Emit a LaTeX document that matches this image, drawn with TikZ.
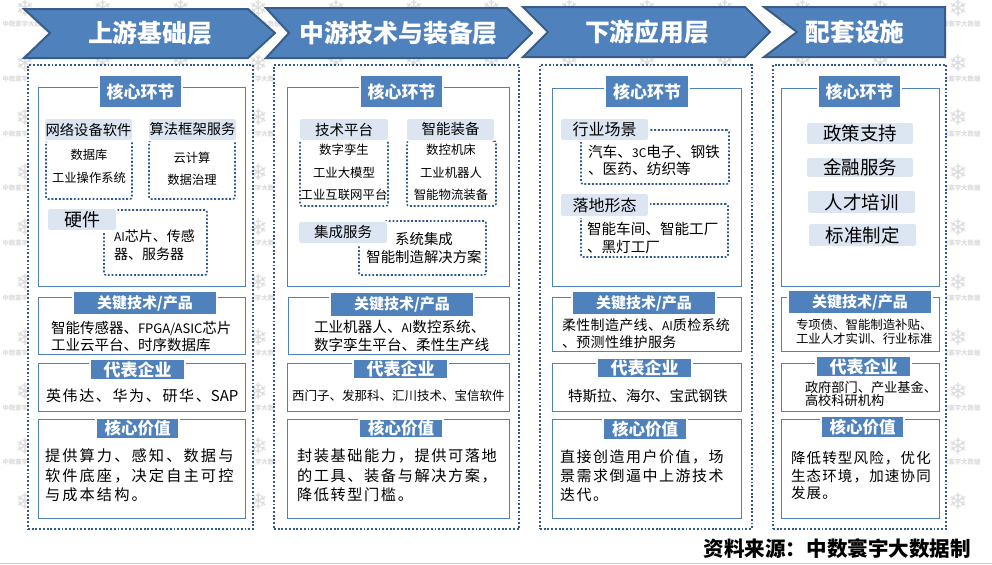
\documentclass[tikz,border=0pt]{standalone}
\usepackage{fontspec}
\setmainfont{Noto Sans CJK SC}
\newfontfamily\flakefont{DejaVu Sans}
\definecolor{hblue}{HTML}{4F81BD}
\definecolor{hedge}{HTML}{385D8A}
\definecolor{pill}{HTML}{DCE6F2}
\definecolor{dotc}{HTML}{2F5A91}
\definecolor{wm}{HTML}{DCDCDC}
\newcommand\fs[1]{\pgfmathsetlengthmacro\fsL{#1*0.75}\fontsize{\fsL}{\fsL}\selectfont}
% box by pixel corners: name,x1,y1,x2,y2,style,text
\newcommand\bx[7]{\pgfmathsetmacro\bw{(#4-#2)*0.75}\pgfmathsetmacro\bh{(#5-#3)*0.75}\pgfmathsetmacro\bcx{(#2+#4)/2}\pgfmathsetmacro\bcy{(#3+#5)/2}\node[#6,minimum width=\bw pt,minimum height=\bh pt,inner sep=0pt,outer sep=0pt] (#1) at (\bcx,\bcy) {#7};}
% text: name,x,y,anchor,size,leading,letterspace,text
\newcommand\tx[8]{\pgfmathsetlengthmacro\txS{#5*0.75}\pgfmathsetlengthmacro\txL{#6*0.75}\node[anchor=#4,inner sep=0pt,outer sep=0pt,align=left,font={\fontsize{\txS}{\txL}\selectfont\addfontfeature{LetterSpace=#7}}] (#1) at (#2,#3) {#8};}
\newcommand\tc[8]{\pgfmathsetlengthmacro\txS{#5*0.75}\pgfmathsetlengthmacro\txL{#6*0.75}\node[anchor=#4,inner sep=0pt,outer sep=0pt,align=center,font={\fontsize{\txS}{\txL}\selectfont\addfontfeature{LetterSpace=#7}}] (#1) at (#2,#3) {#8};}
\newcommand\lat[2]{{\pgfmathsetlengthmacro\latS{#1*0.75}\fontsize{\latS}{\latS}\selectfont\addfontfeature{LetterSpace=0}#2}}
\tikzset{
 outerdot/.style={draw=dotc,fill=white,line width=1.15pt,dash pattern=on 1.4pt off 1.4pt},
 innerdot/.style={draw=dotc,line width=1.15pt,dash pattern=on 1.4pt off 1.4pt,rounded corners=1.5pt},
 frame/.style={draw=hblue,fill=white,line width=0.75pt},
 lab/.style={fill=hblue,draw=white,line width=1.2pt,text=white,font=\bfseries},
 pillbox/.style={fill=pill,draw=white,line width=1.2pt,rounded corners=2.5pt},
 head/.style={fill=hblue,draw=hedge,line width=1.5pt,line join=miter},
 headtext/.style={text=white,font=\bfseries\fontsize{18.6pt}{18.6pt}\selectfont,inner sep=0pt,outer sep=0pt},
 wmflake/.style={text=wm,inner sep=0pt,font=\flakefont\fontsize{17pt}{17pt}\selectfont},
 wmtext/.style={text=wm,inner sep=0pt,font=\bfseries\fontsize{4.8pt}{4.8pt}\selectfont},
}
\begin{document}
\begin{tikzpicture}[x=0.75pt,y=-0.75pt]
\useasboundingbox (0,0) rectangle (992,564);
\fill[white] (0,0) rectangle (992,564);
% watermark grid
\foreach \i in {0,...,12}{\foreach \j in {0,...,9}{
  \pgfmathsetmacro\wx{25+\i*77.75}\pgfmathsetmacro\wy{8+\j*54.8}
  \node[wmflake] (wf\i-\j) at (\wx,\wy) {❄};
  \ifnum\j<9 \node[wmtext] (wt\i-\j) at (\wx,\wy+16) {中数寰宇大数据};\fi
}}
\draw[gray!40,line width=0.7pt] (0,563) -- (992,563);
% headers
\path[head,draw] (24,9) -- (248,9) -- (275,33) -- (248,58) -- (24,58) -- (50,33) -- cycle;
\path[head,draw] (266,8) -- (507,8) -- (532,33) -- (507,58) -- (266,58) -- (289,33) -- cycle;
\path[head,draw] (523,7) -- (745,7) -- (770,32) -- (745,57) -- (523,57) -- (548,32) -- cycle;
\path[head,draw] (764,7) -- (945,7) -- (945,57) -- (764,57) -- (797,32) -- cycle;
\node[headtext] (h1) at (150,33) {上游基础层};
\node[headtext] (h2) at (398.5,33) {中游技术与装备层};
\node[headtext] (h3) at (647,32) {下游应用层};
\node[headtext] (h4) at (855,32) {配套设施};
% outer dotted panels
\bx{p1}{28}{65}{253}{529}{outerdot}{}
\bx{p2}{274}{65}{519}{529}{outerdot}{}
\bx{p3}{540}{65}{752}{529}{outerdot}{}
\bx{p4}{773}{65}{946}{529}{outerdot}{}
% frames
\bx{c1}{38}{87}{245}{286}{frame}{}
\bx{k1}{38}{297}{245}{354}{frame}{}
\bx{e1}{38}{363}{245}{411}{frame}{}
\bx{v1}{38}{419}{245}{518}{frame}{}
\bx{c2}{287}{87}{509}{286}{frame}{}
\bx{k2}{288}{297}{509}{354}{frame}{}
\bx{e2}{287}{363}{509}{411}{frame}{}
\bx{v2}{287}{419}{509}{518}{frame}{}
\bx{c3}{552}{88}{741}{286}{frame}{}
\bx{k3}{552}{297}{741}{351}{frame}{}
\bx{e3}{552}{363}{741}{411}{frame}{}
\bx{v3}{552}{419}{741}{518}{frame}{}
\bx{c4}{781}{88}{939}{286}{frame}{}
\bx{k4}{781}{297}{939}{351}{frame}{}
\bx{e4}{781}{363}{939}{411}{frame}{}
\bx{v4}{781}{419}{939}{518}{frame}{}
% labels
\def\hj{\fs{17}核心环节}\def\gj{\fs{15}关键技术/产品}\def\db{\fs{17}代表企业}\def\hx{\fs{16.5}核心价值}
\bx{lc1}{99}{75}{182}{108}{lab}{\hj}
\bx{lk1}{73}{291}{217}{315}{lab}{\gj}
\bx{le1}{90}{359}{185}{380}{lab}{\db}
\bx{lv1}{96}{418}{179}{439}{lab}{\hx}
\bx{lc2}{360}{75}{443}{108}{lab}{\hj}
\bx{lk2}{330}{292}{474}{317}{lab}{\gj}
\bx{le2}{353}{359}{448}{379}{lab}{\db}
\bx{lv2}{359}{419}{443}{438}{lab}{\hx}
\bx{lc3}{605}{75}{689}{108}{lab}{\hj}
\bx{lk3}{572}{291}{716}{315}{lab}{\gj}
\bx{le3}{597}{358}{692}{378}{lab}{\db}
\bx{lv3}{603}{418}{687}{440}{lab}{\hx}
\bx{lc4}{818}{75}{901}{108}{lab}{\hj}
\bx{lk4}{788}{290}{932}{314}{lab}{\gj}
\bx{le4}{816}{356}{911}{377}{lab}{\db}
\bx{lv4}{821}{416}{904}{438}{lab}{\hx}
% column 1 core
\bx{d11}{46}{141}{132}{199}{innerdot}{}
\bx{d12}{149}{141}{235}{199}{innerdot}{}
\bx{d13}{104}{210}{207}{275}{innerdot}{}
\bx{s11}{44}{118}{133}{141}{pillbox}{\fs{14.3}网络设备软件}
\bx{s12}{148}{118}{237}{141}{pillbox}{\fs{14.3}算法框架服务}
\bx{s13}{47}{208}{117}{231}{pillbox}{\fs{18}硬件}
\tc{t11}{89}{166}{center}{12.3}{23}{0}{数据库\\工业操作系统}
\tc{t12}{192}{169}{center}{12.3}{22}{0}{云计算\\数据治理}
\tx{t13}{114}{245}{west}{14}{18}{0}{\lat{12}{AI}芯片、传感\\器、服务器}
% column 2 core
\bx{d21}{300}{141}{388}{206}{innerdot}{}
\bx{d22}{407}{141}{496}{206}{innerdot}{}
\bx{d23}{359}{221}{486}{275}{innerdot}{}
\bx{s21}{299}{118}{389}{141}{pillbox}{\fs{14.5}技术平台}
\bx{s22}{406}{118}{495}{141}{pillbox}{\fs{14.5}智能装备}
\bx{s23}{298}{221}{388}{244}{pillbox}{\fs{14.5}集成服务}
\tc{t21}{344}{172.5}{center}{12.4}{22.5}{0}{数字孪生\\工业大模型\\工业互联网平台}
\tc{t22}{451}{172.5}{center}{12.4}{22.5}{0}{数控机床\\工业机器人\\智能物流装备}
\tc{t23}{424}{248}{center}{14.4}{18}{0}{系统集成\\智能制造解决方案}
% column 3 core
\bx{d31}{581}{130}{729}{184}{innerdot}{}
\bx{d32}{581}{204}{728}{257}{innerdot}{}
\bx{s31}{560}{118}{649}{141}{pillbox}{\fs{16}行业场景}
\bx{s32}{560}{193}{649}{217}{pillbox}{\fs{16}落地形态}
\tx{t31}{588}{160.5}{west}{14.7}{17}{0}{汽车、\lat{12}{3C}电子、钢铁\\、医药、纺织等}
\tx{t32}{587}{238}{west}{14.6}{18}{0}{智能车间、智能工厂\\、黑灯工厂}
% column 4 core
\bx{s41}{806}{122}{914}{145}{pillbox}{\fs{18.5}政策支持}
\bx{s42}{806}{157}{914}{178}{pillbox}{\fs{18.5}金融服务}
\bx{s43}{807}{190}{916}{214}{pillbox}{\fs{18.5}人才培训}
\bx{s44}{808}{223}{917}{247}{pillbox}{\fs{18.5}标准制定}
% key tech texts
\tx{t14}{51}{336.5}{west}{14.5}{17}{0}{智能传感器、\lat{13}{FPGA/ASIC}芯片\\工业云平台、时序数据库}
\tx{t24}{314}{336}{west}{14.6}{18}{0}{工业机器人、\lat{12}{AI}数控系统、\\数字孪生平台、柔性生产线}
\tx{t34}{562}{333.5}{west}{14}{17}{2.5}{柔性制造产线、\lat{12}{AI}质检系统\\、预测性维护服务}
\tx{t44}{796}{332}{west}{12.4}{14}{0}{专项债、智能制造补贴、\\工业人才实训、行业标准}
% enterprise texts
\tx{t15}{46}{396}{west}{15}{15}{11}{英伟达、华为、研华、\lat{15}{SAP}}
\tx{t25}{292}{396}{west}{12.5}{13}{0}{西门子、发那科、汇川技术、宝信软件}
\tx{t35}{568}{396}{west}{14.5}{15}{0}{特斯拉、海尔、宝武钢铁}
\tx{t45}{805}{393.5}{west}{13.2}{13}{0}{政府部门、产业基金、\\高校科研机构}
% value texts
\tx{t16}{45}{475.5}{west}{15.2}{19.5}{14}{提供算力、感知、数据与\\软件底座，决定自主可控\\与成本结构。}
\tx{t26}{297}{475.5}{west}{15.2}{19.5}{10.5}{封装基础能力，提供可落地\\的工具、装备与解决方案，\\降低转型门槛。}
\tx{t36}{560}{476}{west}{15}{19}{10}{直接创造用户价值，场\\景需求倒逼中上游技术\\迭代。}
\tx{t46}{791}{475.5}{west}{14.5}{17.5}{8}{降低转型风险，优化\\生态环境，加速协同\\发展。}
% source
\node[anchor=east,inner sep=0pt,font=\bfseries\fontsize{15.4pt}{15.4pt}\selectfont] (src) at (971,549) {资料来源：中数寰宇大数据制};
\end{tikzpicture}
\end{document}
